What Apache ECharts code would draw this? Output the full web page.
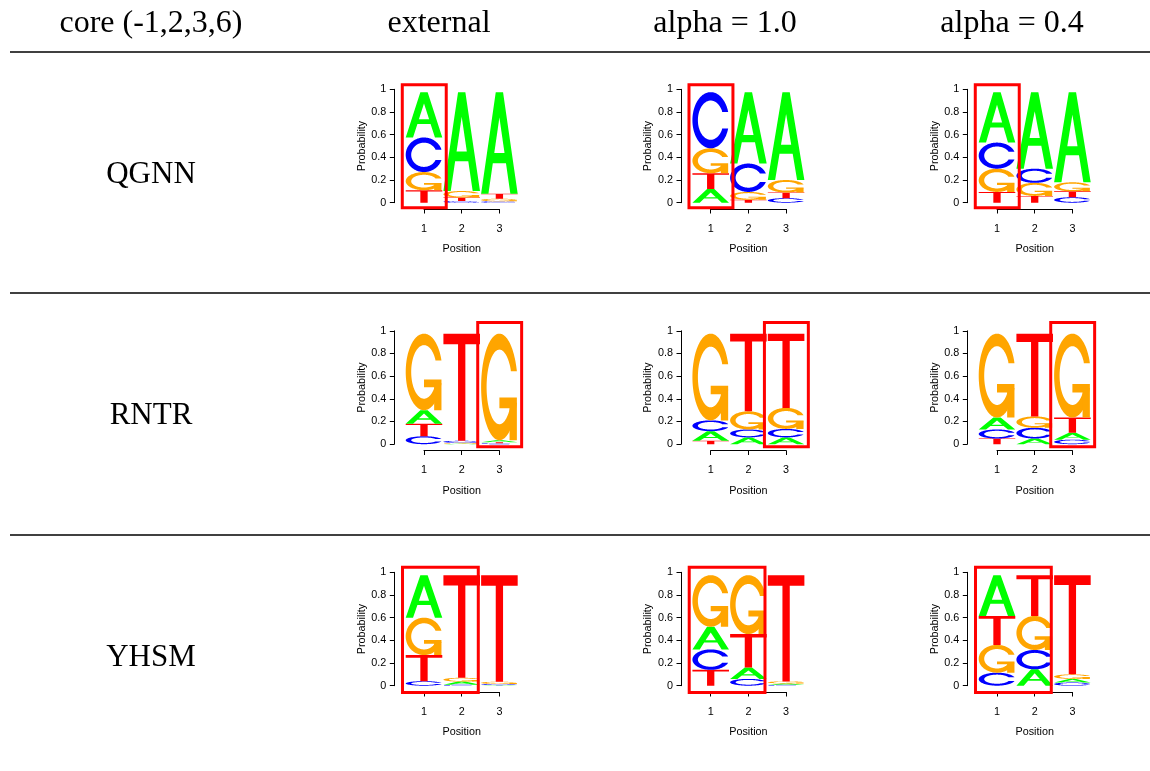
<!DOCTYPE html>
<html>
<head>
<meta charset="utf-8">
<script src="https://cdn.jsdelivr.net/npm/echarts@6/dist/echarts.min.js"></script>
<style>
  html, body { margin: 0; padding: 0; background: #fff; }
  #chart { width: 1150px; height: 771px; }
</style>
</head>
<body>
<div id="chart"></div>
<script>
// ---- table text ----
const columnTitles = ['core (-1,2,3,6)', 'external', 'alpha = 1.0', 'alpha = 0.4'];
const rowLabels = ['QGNN', 'RNTR', 'YHSM'];

// ---- axes ----
const bases = ['A', 'C', 'G', 'T'];
const positions = [1, 2, 3];
const xTickLabels = ['1', '2', '3'];
const yTicks = [0, 0.2, 0.4, 0.6, 0.8, 1];
const yTickLabels = ['0', '0.2', '0.4', '0.6', '0.8', '1'];

// ---- letter heights: one row per position, columns in A, C, G, T order ----
const qgnnExternal = [[0.400, 0.305, 0.160, 0.110], [0.872, 0.015, 0.058, 0.030], [0.895, 0.012, 0.023, 0.045]];
const qgnnAlpha10  = [[0.120, 0.495, 0.220, 0.140], [0.630, 0.250, 0.070, 0.025], [0.775, 0.040, 0.110, 0.050]];
const qgnnAlpha04  = [[0.445, 0.230, 0.205, 0.095], [0.675, 0.125, 0.115, 0.060], [0.795, 0.048, 0.080, 0.052]];

const rntrExternal = [[0.120, 0.070, 0.675, 0.110], [0.005, 0.018, 0.007, 0.945], [0.017, 0.008, 0.940, 0.010]];
const rntrAlpha10  = [[0.085, 0.095, 0.765, 0.030], [0.060, 0.070, 0.160, 0.685], [0.060, 0.075, 0.185, 0.655]];
const rntrAlpha04  = [[0.105, 0.080, 0.740, 0.050], [0.050, 0.095, 0.100, 0.730], [0.060, 0.040, 0.740, 0.135]];

const yhsmExternal = [[0.375, 0.040, 0.330, 0.230], [0.028, 0.008, 0.034, 0.905], [0.005, 0.010, 0.020, 0.940]];
const yhsmAlpha10  = [[0.200, 0.180, 0.455, 0.140], [0.100, 0.060, 0.520, 0.295], [0.012, 0.008, 0.018, 0.937]];
const yhsmAlpha04  = [[0.360, 0.115, 0.245, 0.255], [0.145, 0.170, 0.300, 0.360], [0.032, 0.028, 0.040, 0.875]];

// highlighted region per row: [xFrom, xTo, yFrom, yTo] in axis units
const qgnnBox = [0.424, 1.59, -0.044, 1.04];
const rntrBox = [2.425, 3.59, -0.023, 1.073];
const yhsmBox = [0.43, 2.44, -0.059, 1.044];

const panels = [
  [qgnnExternal, qgnnAlpha10, qgnnAlpha04],
  [rntrExternal, rntrAlpha10, rntrAlpha04],
  [yhsmExternal, yhsmAlpha10, yhsmAlpha04]
];
const rowBoxes = [qgnnBox, rntrBox, yhsmBox];

// ---- page geometry ----
const colLefts = [424, 710.7, 997];      // pixel of position 1 in each logo column
const rowTops = [89.3, 330.8, 572.3];    // pixel of probability 1 in each row
const unitW = 37.7;
const plotH = 113.4;
const HALF_W = 0.485;                    // half letter width in position units
const colCenters = [151, 439, 725, 1012];
const rowCenters = [174.5, 415.5, 657.5];
const ruleYs = [52, 293, 535];

const baseColors = { A: '#00ff00', C: '#0000ff', G: '#ffa500', T: '#ff0000' };

// ---- letter outlines in a unit box (y up) ----
function linspace(a, b, n) {
  const out = [];
  for (let i = 0; i < n; i++) out.push(a + (b - a) * i / (n - 1));
  return out;
}
function ringPolygon() {
  const n = 40;
  const ang1 = linspace(0.3 + Math.PI / 2, Math.PI, n);
  const ang2 = linspace(Math.PI, 1.5 * Math.PI, n);
  const l1 = ang1.map(a => [0.5 + 0.5 * Math.sin(a), 0.5 + 0.5 * Math.cos(a)]);
  const l2 = ang2.map(a => [0.5 + 0.5 * Math.sin(a), 0.5 + 0.5 * Math.cos(a)]);
  const outerHalf = l1.concat(l2);
  const outer = outerHalf.concat(outerHalf.slice().reverse().map(p => [p[0], 1 - p[1]]));
  const cut = Math.max(...l1.map(p => p[1]));
  let i1 = ang1.map(a => [0.5 + 0.35 * Math.sin(a), 0.5 + 0.35 * Math.cos(a)]).filter(p => p[1] <= cut);
  i1[0] = [i1[0][0], cut];
  const i2 = ang2.map(a => [0.5 + 0.35 * Math.sin(a), 0.5 + 0.35 * Math.cos(a)]);
  const innerHalf = i1.concat(i2);
  const inner = innerHalf.concat(innerHalf.slice().reverse().map(p => [p[0], 1 - p[1]]));
  return { pts: outer.concat(inner.slice().reverse()), right: Math.max(...l1.map(p => p[0])) };
}
const ring = ringPolygon();
const r1 = ring.right;
const glyphs = {
  A: [
    { pts: [[0, 0], [0.4, 1], [0.6, 1], [1, 0], [0.8, 0], [0.68, 0.3], [0.32, 0.3], [0.2, 0]], fill: 'base' },
    { pts: [[0.36, 0.4], [0.5, 0.75], [0.64, 0.4]], fill: 'hole' }
  ],
  C: [{ pts: ring.pts, fill: 'base' }],
  G: [
    { pts: ring.pts, fill: 'base' },
    { pts: [[r1, 0.4], [0.5, 0.4], [0.5, 0.3], [r1 - 0.2, 0.3], [r1 - 0.2, 0], [r1, 0]], fill: 'base' }
  ],
  T: [{ pts: [[0, 1], [1, 1], [1, 0.9], [0.6, 0.9], [0.6, 0], [0.4, 0], [0.4, 0.9], [0, 0.9]], fill: 'base' }]
};

// stack letters at each position, smallest at the bottom
function stackLetters(heights) {
  const rows = [];
  heights.forEach((h, pi) => {
    const order = [0, 1, 2, 3].sort((a, b) => h[a] - h[b]);
    let y = 0;
    order.forEach(bi => {
      rows.push([positions[pi], y, y + h[bi], bi]);
      y += h[bi];
    });
  });
  return rows;
}

function renderLetter(params, api) {
  const pos = api.value(0), y0 = api.value(1), y1 = api.value(2);
  const b = bases[api.value(3)];
  const p0 = api.coord([pos - HALF_W, y0]);
  const p1 = api.coord([pos + HALF_W, y1]);
  const x = p0[0], w = p1[0] - p0[0], yb = p0[1], h = p0[1] - p1[1];
  return {
    type: 'group',
    children: glyphs[b].map(part => ({
      type: 'polygon',
      shape: { points: part.pts.map(p => [x + p[0] * w, yb - p[1] * h]) },
      style: { fill: part.fill === 'base' ? baseColors[b] : '#ffffff', stroke: null }
    }))
  };
}

function renderBox(params, api) {
  const a = api.coord([api.value(0), api.value(3)]);
  const b = api.coord([api.value(1), api.value(2)]);
  return {
    type: 'rect',
    shape: { x: a[0], y: a[1], width: b[0] - a[0], height: b[1] - a[1] },
    style: { fill: null, stroke: '#ff0000', lineWidth: 3 },
    z2: 10
  };
}

const axisFont = { fontSize: 10.8, color: '#000', fontFamily: 'Liberation Sans, Arial, sans-serif' };
const grids = [], xAxes = [], yAxes = [], series = [];
panels.forEach((rowPanels, r) => {
  rowPanels.forEach((heights, c) => {
    const gi = grids.length;
    grids.push({
      left: colLefts[c], top: rowTops[r], width: 2 * unitW, height: plotH,
      containLabel: false, outerBoundsMode: 'none'
    });
    xAxes.push({
      gridIndex: gi, type: 'value', min: 1, max: 3, interval: 1, position: 'bottom', offset: 6.3,
      axisLine: { show: true, onZero: false, lineStyle: { color: '#000', width: 1 } },
      axisTick: { show: true, length: 4.5, lineStyle: { color: '#000', width: 1 } },
      axisLabel: Object.assign({ margin: 14.5, formatter: v => xTickLabels[Math.round(v) - 1] }, axisFont),
      splitLine: { show: false },
      name: 'Position', nameLocation: 'middle', nameGap: 35, nameTextStyle: axisFont
    });
    yAxes.push({
      gridIndex: gi, type: 'value', min: 0, max: 1, interval: 0.2, position: 'left', offset: 29.7,
      axisLine: { show: true, onZero: false, lineStyle: { color: '#000', width: 1 } },
      axisTick: { show: true, length: 4.5, lineStyle: { color: '#000', width: 1 } },
      axisLabel: Object.assign({
        margin: 8,
        formatter: v => yTickLabels[yTicks.findIndex(t => Math.abs(t - v) < 1e-6)]
      }, axisFont),
      splitLine: { show: false },
      name: 'Probability', nameLocation: 'middle', nameRotate: 90, nameGap: 27, nameTextStyle: axisFont
    });
    series.push({
      type: 'custom', xAxisIndex: gi, yAxisIndex: gi, clip: false, silent: true,
      renderItem: renderLetter,
      encode: { x: 0, y: [1, 2] },
      data: stackLetters(heights)
    });
    series.push({
      type: 'custom', xAxisIndex: gi, yAxisIndex: gi, clip: false, silent: true, z: 5,
      renderItem: renderBox,
      encode: { x: [0, 1], y: [2, 3] },
      data: [rowBoxes[r]]
    });
  });
});

const serifFont = '"Liberation Serif", "Times New Roman", serif';
const graphics = [];
columnTitles.forEach((t, i) => {
  graphics.push({
    type: 'text', x: colCenters[i], y: 24,
    style: { text: t, font: '32px ' + serifFont, fill: '#000', align: 'center', verticalAlign: 'middle' }
  });
});
rowLabels.forEach((t, i) => {
  graphics.push({
    type: 'text', x: colCenters[0], y: rowCenters[i],
    style: { text: t, font: '31px ' + serifFont, fill: '#000', align: 'center', verticalAlign: 'middle' }
  });
});
ruleYs.forEach(y => {
  graphics.push({
    type: 'line', shape: { x1: 10, y1: y, x2: 1150, y2: y },
    style: { stroke: '#000', lineWidth: 1.6 }
  });
});

const chart = echarts.init(document.getElementById('chart'), null, { renderer: 'canvas' });
chart.setOption({
  backgroundColor: '#ffffff',
  animation: false,
  grid: grids,
  xAxis: xAxes,
  yAxis: yAxes,
  series: series,
  graphic: graphics
});
</script>
</body>
</html>
